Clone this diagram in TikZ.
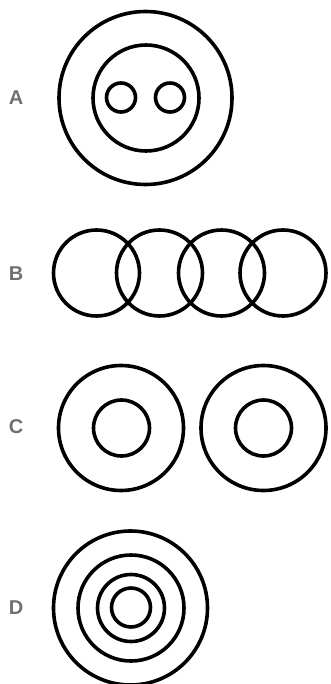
\documentclass[tikz,border=0pt]{standalone}
\usepackage{fontspec}
\setmainfont{Liberation Sans}
\definecolor{lblgray}{RGB}{112,112,112}
\begin{document}
\begin{tikzpicture}[x=1pt,y=-1pt,
  ring/.style={draw=black,line width=3.6pt},
  lbl/.style={text=lblgray,font=\fontsize{20}{20}\selectfont\bfseries,inner sep=0pt}]
\useasboundingbox (0,0) rectangle (330,684);
% A
\node[lbl] (la) at (16,98) {A};
\draw[ring] (145.5,98) circle (86.5);
\draw[ring] (146,98) circle (53);
\draw[ring] (121,97.5) circle (14.5);
\draw[ring] (170,97.5) circle (14.5);
% B
\node[lbl] (lb) at (16,274) {B};
\foreach \cx in {96.5,159.5,221.5,283}
  \draw[ring] (\cx,273) circle (43);
% C
\node[lbl] (lc) at (16,427) {C};
\draw[ring] (121,428) circle (62.5);
\draw[ring] (121.5,428) circle (28);
\draw[ring] (263.5,428) circle (62.5);
\draw[ring] (263.5,428) circle (28);
% D
\node[lbl] (ld) at (16,608) {D};
\draw[ring] (130.5,608) circle (77);
\draw[ring] (131,608) circle (53);
\draw[ring] (131,608) circle (33.5);
\draw[ring] (131,607.5) circle (19.5);
\end{tikzpicture}
\end{document}
